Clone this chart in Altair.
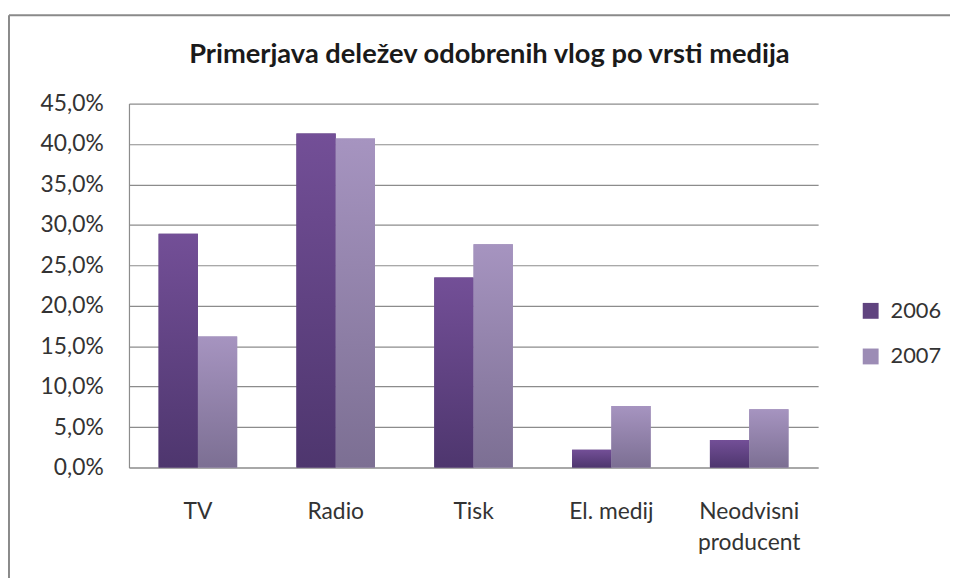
import altair as alt
import pandas as pd

categories = ["TV", "Radio", "Tisk", "El. medij", "Neodvisni\nproducent"]
years = ["2006", "2007"]
share_2006 = [28.9, 41.3, 23.5, 2.2, 3.4]
share_2007 = [16.2, 40.7, 27.6, 7.6, 7.2]
y_ticks = [0, 5, 10, 15, 20, 25, 30, 35, 40, 45]
title_text = "Primerjava deležev odobrenih vlog po vrsti medija"

rows = []
for c, a, b in zip(categories, share_2006, share_2007):
    rows.append({"medij": c, "leto": years[0], "delez": a})
    rows.append({"medij": c, "leto": years[1], "delez": b})
df = pd.DataFrame(rows)

FONT = "Lato"
TXT = "#333333"


def grad(top, bottom):
    return alt.LinearGradient(
        gradient="linear",
        stops=[alt.GradientStop(offset=0, color=top), alt.GradientStop(offset=1, color=bottom)],
        x1=0, x2=0, y1=0, y2=1,
    )


x_enc = alt.X(
    "medij:N",
    sort=categories,
    scale=alt.Scale(domain=categories, paddingInner=0.43, paddingOuter=0.215),
    axis=alt.Axis(
        title=None, labelAngle=0, labelExpr="split(datum.label, '\\n')",
        labelFont=FONT, labelFontSize=23, labelColor=TXT, labelPadding=33,
        labelLineHeight=32, ticks=False, domainColor="#8c8c8c", domainWidth=1.2,
    ),
)
xo_enc = alt.XOffset("leto:N", sort=years, scale=alt.Scale(domain=years, paddingInner=0, paddingOuter=0))
y_enc = alt.Y(
    "delez:Q",
    scale=alt.Scale(domain=[0, 45], nice=False, zero=True),
    axis=alt.Axis(
        title=None, values=y_ticks,
        labelExpr="replace(format(datum.value, '.1f'), '.', ',') + '%'",
        labelFont=FONT, labelFontSize=23, labelColor=TXT, labelPadding=26,
        ticks=False, grid=True, gridColor="#8c8c8c", gridWidth=1.2,
        domainColor="#8c8c8c", domainWidth=1.2,
    ),
)

base = alt.Chart(df).mark_bar().encode(
    x=x_enc, xOffset=xo_enc, y=y_enc,
    color=alt.Color(
        "leto:N",
        scale=alt.Scale(domain=years, range=["#60447f", "#9c8cb5"]),
        legend=alt.Legend(
            title=None, orient="none", legendX=737, legendY=198,
            symbolType="square", symbolSize=256, symbolStrokeWidth=0,
            labelFont=FONT, labelFontSize=22, labelColor=TXT,
            rowPadding=24, labelOffset=9, padding=0,
        ),
    ),
)

g06 = alt.Chart(df).transform_filter(alt.datum.leto == years[0]).mark_bar(
    fill=grad("#734f97", "#4e366e")
).encode(x=x_enc, xOffset=xo_enc, y=y_enc)

g07 = alt.Chart(df).transform_filter(alt.datum.leto == years[1]).mark_bar(
    fill=grad("#a694c0", "#7c6f93")
).encode(x=x_enc, xOffset=xo_enc, y=y_enc)

frame_data = alt.Data(values=[{"k": 1}])
frame_left = alt.Chart(frame_data).mark_rule(color="#8a8a8a", strokeWidth=2).encode(
    x=alt.value(-121), y=alt.value(-89), y2=alt.value(490)
)
frame_top = alt.Chart(frame_data).mark_rule(color="#8a8a8a", strokeWidth=2).encode(
    x=alt.value(-121), x2=alt.value(840), y=alt.value(-89)
)

chart = (
    alt.layer(base, g06, g07, frame_left, frame_top)
    .properties(
        width=695,
        height=367,
        autosize=alt.AutoSizeParams(type="none"),
        padding={"left": 122, "top": 94, "right": 133, "bottom": 109},
        background="white",
        title=alt.TitleParams(
            title_text, font=FONT, fontSize=27.5, fontWeight="bold", color="#1a1a1a",
            anchor="middle", frame="group", baseline="alphabetic", offset=-77, dx=16,
        ),
    )
    .configure_view(stroke=None)
)

chart.save("out.html", embed_options={"renderer": "svg", "actions": False})
